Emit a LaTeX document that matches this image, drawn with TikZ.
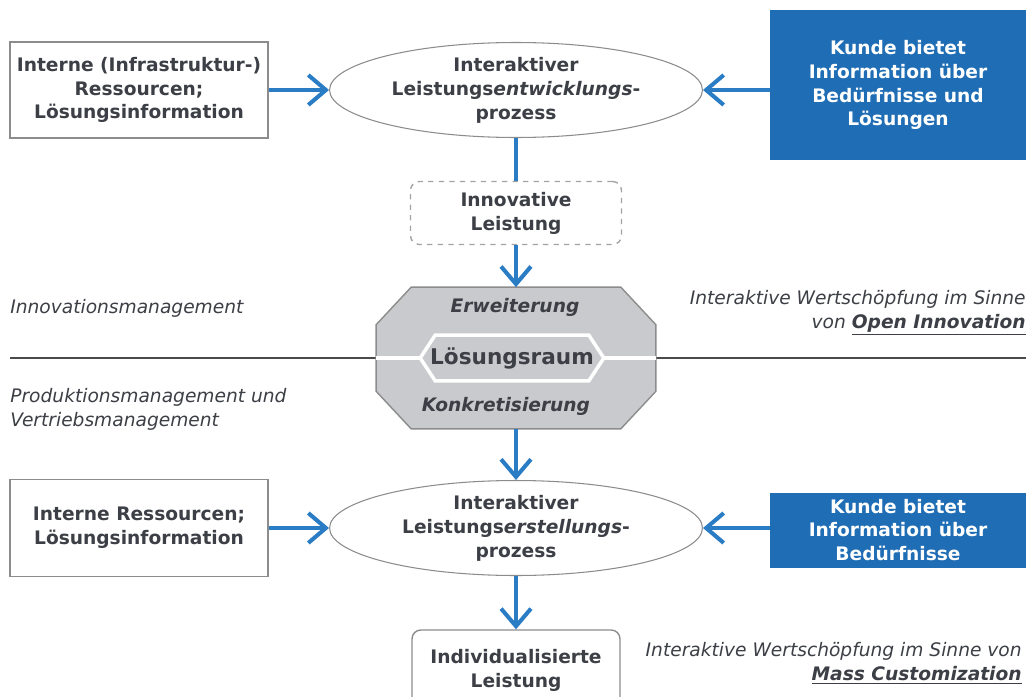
\documentclass[tikz,border=0pt]{standalone}
\usepackage{fontspec}
\setmainfont{DejaVu Sans}
\definecolor{lrBlue}{HTML}{1F6DB4}
\definecolor{lrArrow}{HTML}{2A7CC4}
\definecolor{lrText}{HTML}{3C3F45}
\definecolor{lrGray}{HTML}{8C8C8C}
\definecolor{lrFill}{HTML}{C9CACD}
\definecolor{lrLine}{HTML}{4A4A4A}
\usetikzlibrary{shapes.geometric, arrows.meta, positioning, calc}
\newcommand{\lrfont}{\fontsize{10.6}{13.6}\selectfont}

\begin{document}
\begin{tikzpicture}[
  x=0.02cm, y=-0.02cm,
  every node/.style={font=\lrfont, text=lrText},
  box/.style={draw=lrGray, fill=white, line width=0.8pt, align=center,
    font=\lrfont\bfseries, minimum width=5.16cm, inner sep=2pt},
  kunde/.style={fill=lrBlue, align=center, font=\lrfont\bfseries,
    text=white, minimum width=5.12cm},
  proc/.style={ellipse, draw=lrGray, fill=white, line width=0.6pt, align=center,
    font=\lrfont\bfseries, minimum width=7.46cm, minimum height=1.9cm, inner sep=0pt},
  arr/.style={-{Straight Barb[length=10pt, width=17pt]}, line width=2.3pt, lrArrow},
  lbl/.style={font=\lrfont\itshape, inner sep=0pt},
  oct/.style={fill=lrFill, draw=lrGray, line width=0.8pt}
]
  \fill[white] (0,0) rectangle (1026,696);
  \useasboundingbox (0,0) rectangle (1026,696);

  % Nodes
  \node[box, minimum height=1.92cm] (I1) at (139,90) {Interne (Infrastruktur-)\\Ressourcen;\\Lösungsinformation};
  \node[proc] (P1) at (516,90) {Interaktiver\\Leistungs\textit{entwicklungs}-\\prozess};
  \node[kunde, minimum height=3cm] (K1) at (898,85) {Kunde bietet\\Information über\\Bedürfnisse und\\Lösungen};
  \node[box, draw=lrGray!80, dashed, rounded corners=5pt, minimum width=4.22cm,
    minimum height=1.26cm] (N) at (516,213) {Innovative\\Leistung};

  % Loesungsraum
  \coordinate (h0) at (10,358);
  \coordinate (h1) at (1026,358);
  \node[minimum width=5.58cm, minimum height=2.82cm, inner sep=0pt] (L) at (516,358) {};
  \draw[lrLine, line width=1.6pt] (h0) -- (L.west);
  \draw[lrLine, line width=1.6pt] (L.east) -- (h1);
  \draw[oct] ([xshift=0.7cm]L.north west) -- ([xshift=-0.7cm]L.north east)
    -- ([yshift=-0.75cm]L.north east) -- ([yshift=0.75cm]L.south east)
    -- ([xshift=-0.7cm]L.south east) -- ([xshift=0.7cm]L.south west)
    -- ([yshift=0.75cm]L.south west) -- ([yshift=-0.75cm]L.north west) -- cycle;
  \node[minimum width=3.66cm, minimum height=0.9cm, inner sep=0pt,
    font=\fontsize{12.3}{14}\selectfont\bfseries] (R) at (512,358) {Lösungsraum};
  \draw[white, line width=2pt] (L.west) -- (R.west);
  \draw[white, line width=2pt] (R.east) -- (L.east);
  \draw[white, line width=2pt] ([xshift=0.3cm]R.north west) -- ([xshift=-0.3cm]R.north east)
    -- (R.east) -- ([xshift=-0.3cm]R.south east) -- ([xshift=0.3cm]R.south west)
    -- (R.west) -- cycle;
  \node[font=\lrfont\bfseries\itshape] (E) at (515,307) {Erweiterung};
  \node[font=\lrfont\bfseries\itshape] (Kon) at (506,406) {Konkretisierung};

  \node[box, minimum height=1.94cm] (I2) at (139,528) {Interne Ressourcen;\\Lösungsinformation};
  \node[proc] (P2) at (516,528) {Interaktiver\\Leistungs\textit{erstellungs}-\\prozess};
  \node[kunde, minimum height=1.5cm] (K2) at (898,530) {Kunde bietet\\Information über\\Bedürfnisse};
  \node[box, rounded corners=5pt, minimum width=4.16cm, minimum height=1.6cm] (O) at (516,670) {Individualisierte\\Leistung};

  % Labels
  \node[lbl, anchor=west] (T1) at (10,308) {Innovationsmanagement};
  \node[lbl, anchor=west, align=left] (T2) at (10,409) {Produktionsmanagement und\\Vertriebsmanagement};
  \node[lbl, anchor=east, align=right] (T3) at (1026,313) {Interaktive Wertschöpfung im Sinne\\von \underline{\textbf{Open Innovation}}};
  \node[lbl, anchor=east, align=right] (T4) at (1022,663) {Interaktive Wertschöpfung im Sinne von\\\underline{\textbf{Mass Customization}}};

  % Paths
  \draw[arr] (I1) -- (P1);
  \draw[arr] (K1.west |- P1.east) -- (P1.east);
  \draw[lrArrow, line width=2.3pt] (P1) -- (N);
  \draw[arr] (N) -- (L);
  \draw[arr] (L) -- (P2);
  \draw[arr] (I2) -- (P2);
  \draw[arr] (K2.west |- P2.east) -- (P2.east);
  \draw[arr] (P2) -- (O);
\end{tikzpicture}
\end{document}
